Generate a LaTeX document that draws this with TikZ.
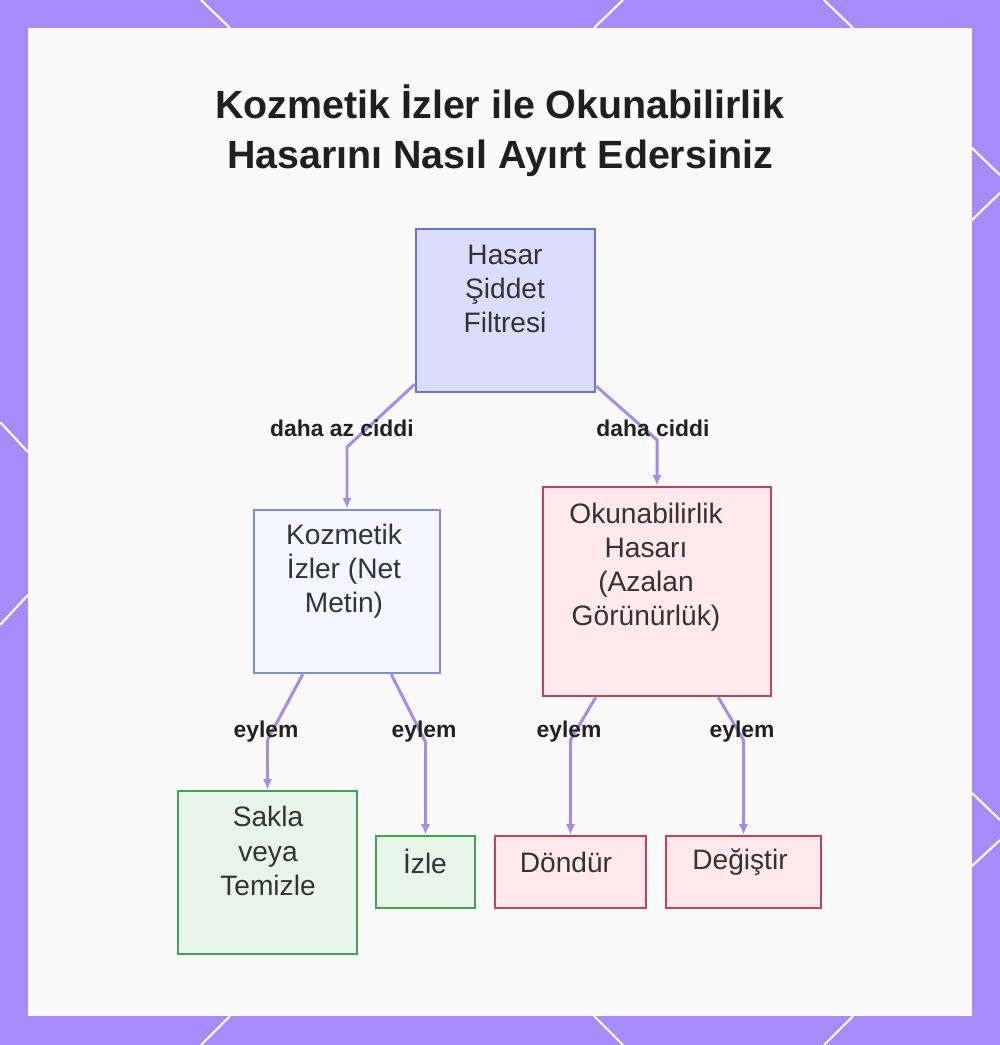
\documentclass[tikz,border=0pt]{standalone}
\usepackage{fontspec}
\setmainfont{Liberation Sans}
\usetikzlibrary{arrows.meta}
\definecolor{framecol}{HTML}{A78BFA}
\definecolor{panelcol}{HTML}{FBFAFA}
\definecolor{linkcol}{HTML}{A68BEE}
\definecolor{rootfill}{HTML}{DADDFC}
\definecolor{rootline}{HTML}{6677D2}
\definecolor{bluefill}{HTML}{F5F6FE}
\definecolor{blueline}{HTML}{7B8DE6}
\definecolor{redfill}{HTML}{FFE9EC}
\definecolor{redline}{HTML}{C9404F}
\definecolor{greenfill}{HTML}{E8F5E9}
\definecolor{greenline}{HTML}{3EA650}
\definecolor{inkcol}{HTML}{333333}
\begin{document}
\begin{tikzpicture}[x=0.01cm,y=-0.01cm]
\tikzset{
  box/.style={draw,line width=0.7pt,inner sep=0pt},
  rootbox/.style={box,fill=rootfill,draw=rootline},
  bluebox/.style={box,fill=bluefill,draw=blueline},
  redbox/.style={box,fill=redfill,draw=redline},
  greenbox/.style={box,fill=greenfill,draw=greenline},
  txt/.style={align=center,inner sep=0pt,text=inkcol,font=\fontsize{8}{9.7}\selectfont},
  edgelbl/.style={inner sep=0pt,text=black!87,font=\fontsize{6.5}{8}\selectfont\bfseries},
  link/.style={draw=linkcol,line width=0.85pt,-{Latex[length=3pt,width=2.6pt]}},
  deco/.style={draw=white,line width=0.6pt}
}
\useasboundingbox (0,0) rectangle (1000,1045);
% frame and panel
\fill [framecol] (0,0) rectangle (1000,1045);
\fill [panelcol] (28,28) rectangle (972,1016);
\draw [deco] (201,0) -- (230,28);
\draw [deco] (623,0) -- (594,28);
\draw [deco] (824,0) -- (853,28);
\draw [deco] (230,1016) -- (201,1045);
\draw [deco] (594,1016) -- (623,1045);
\draw [deco] (853,1016) -- (824,1045);
\draw [deco] (0,422) -- (28,452);
\draw [deco] (28,595) -- (0,625);
\draw [deco] (972,148) -- (1000,175);
\draw [deco] (1000,193) -- (972,220);
\draw [deco] (972,793) -- (1000,820);
\draw [deco] (1000,840) -- (972,866);
% title
\node [align=center,inner sep=0pt,text=black!88,font=\fontsize{11.2}{14.2}\selectfont\bfseries] (title) at (500,131)
  {Kozmetik İzler ile Okunabilirlik\\Hasarını Nasıl Ayırt Edersiniz};
% boxes
\node [rootbox,minimum width=1.79cm,minimum height=1.63cm] (root) at (505.5,310.5) {};
\node [bluebox,minimum width=1.86cm,minimum height=1.63cm] (koz) at (347,591.5) {};
\node [redbox,minimum width=2.28cm,minimum height=2.09cm] (oku) at (657,591.5) {};
\node [greenbox,minimum width=1.79cm,minimum height=1.63cm] (sakla) at (267.5,872.5) {};
\node [greenbox,minimum width=0.99cm,minimum height=0.72cm] (izle) at (425.5,872) {};
\node [redbox,minimum width=1.51cm,minimum height=0.72cm] (dondur) at (570.5,872) {};
\node [redbox,minimum width=1.55cm,minimum height=0.72cm] (degis) at (743.5,872) {};
% box texts
\node [txt] (roottxt) at (505,289) {Hasar\\Şiddet\\Filtresi};
\node [txt] (koztxt) at (344,571) {Kozmetik\\İzler (Net\\Metin)};
\node [txt] (okutxt) at (646,567.5) {Okunabilirlik\\Hasarı\\(Azalan\\Görünürlük)};
\node [txt] (saklatxt) at (268,851) {Sakla\\veya\\Temizle};
\node [txt] (izletxt) at (425,861) {İzle};
\node [txt] (dondurtxt) at (566,862) {Döndür};
\node [txt] (degistxt) at (740,862) {Değiştir};
% connectors
\draw [link] ([yshift=0.09cm]root.south west) -- (koz.north |- 0,447) -- (koz.north);
\draw [link] ([yshift=0.07cm]root.south east) -- (oku.north |- 0,440) -- (oku.north);
\draw [link] ([xshift=0.5cm]koz.south west) -- (sakla.north |- 0,740) -- (sakla.north);
\draw [link] ([xshift=-0.5cm]koz.south east) -- (izle.north |- 0,742) -- (izle.north);
\draw [link] ([xshift=0.54cm]oku.south west) -- (dondur.north |- 0,740) -- (dondur.north);
\draw [link] ([xshift=-0.54cm]oku.south east) -- (degis.north |- 0,740) -- (degis.north);
% connector labels
\node [edgelbl] (lblless) at (342,428) {daha az ciddi};
\node [edgelbl] (lblmore) at (653,428) {daha ciddi};
\node [edgelbl] (lblsakla) at (266,732) {eylem};
\node [edgelbl] (lblizle) at (424,732) {eylem};
\node [edgelbl] (lbldondur) at (569,732) {eylem};
\node [edgelbl] (lbldegis) at (742,732) {eylem};
\end{tikzpicture}
\end{document}
